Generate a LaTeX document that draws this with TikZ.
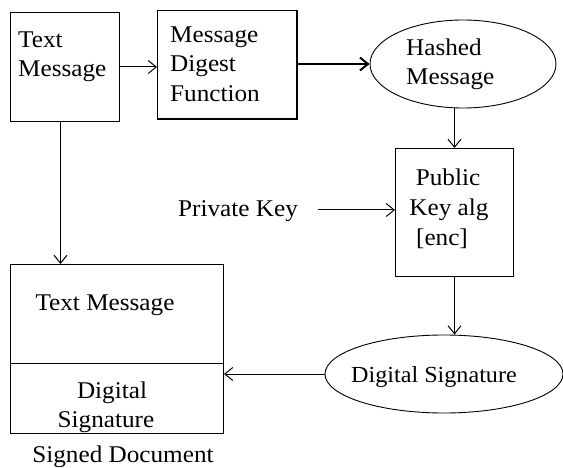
\documentclass[tikz,border=0pt]{standalone}
\usepackage{fontspec}
\setmainfont{Liberation Serif}[FakeStretch=1.05]
\usetikzlibrary{arrows.meta,shapes.geometric}
\begin{document}
\begin{tikzpicture}[x=1pt,y=-1pt,
  boxnode/.style={draw,line width=1pt,rectangle,inner sep=0pt,anchor=north west},
  oval/.style={draw,ellipse,line width=0.9pt,inner sep=0pt},
  lbl/.style={font=\fontsize{24}{30}\selectfont,inner sep=0pt,anchor=base west},
  clbl/.style={font=\fontsize{24}{30}\selectfont,inner sep=0pt,anchor=base},
  arr/.style={-{Straight Barb[length=8pt,width=13pt]},line width=1pt}]
\fill[white] (0,0) rectangle (563,468);
\useasboundingbox (0,0) rectangle (563,468);

% Text Message box
\node[boxnode,minimum width=109pt,minimum height=109pt] (tm) at (10,12) {};
\node[lbl] (tm1) at (18,48) {Text};
\node[lbl] (tm2) at (18,77) {Message};

% Message Digest Function box
\node[boxnode,minimum width=139pt,minimum height=108pt] (mdf) at (157,10) {};
\draw[line width=2pt] (mdf.south west) -- (mdf.south east) -- (mdf.north east);
\node[lbl] (mdf1) at (170,43) {Message};
\node[lbl] (mdf2) at (170,72) {Digest};
\node[lbl] (mdf3) at (170,102) {Function};

% Hashed Message ellipse
\node[oval,minimum width=186pt,minimum height=88pt] (hm) at (463,64) {};
\node[lbl] (hm1) at (406,56) {Hashed};
\node[lbl] (hm2) at (406,85) {Message};

% Public Key alg box
\node[boxnode,minimum width=118pt,minimum height=128pt] (pk) at (395,148) {};
\node[clbl] (pk1) at (448,186) {Public};
\node[clbl] (pk2) at (449,216) {Key alg};
\node[clbl] (pk3) at (442,246) {[enc]};

% Private Key
\node[lbl] (pkey) at (178,217) {Private Key};

% Signed document box
\node[boxnode,minimum width=213pt,minimum height=169pt] (sd) at (10,264) {};
\draw[line width=1pt] (sd.west |- 0,363) -- (sd.east |- 0,363);
\node[clbl] (sd1) at (105,310) {Text Message};
\node[clbl] (sd2) at (112,398) {Digital};
\node[clbl] (sd3) at (106,427) {Signature};
\node[clbl] (sdl) at (123,462) {Signed Document};

% Digital Signature ellipse
\node[oval,minimum width=238pt,minimum height=78pt] (ds) at (444,374) {};
\node[clbl,font=\fontsize{23}{30}\selectfont] (ds1) at (434,382) {Digital Signature};

% connectors
\draw[arr] (tm.east) -- (tm.east -| mdf.west);
\draw[arr,line width=2pt] (mdf.east |- hm.west) -- (hm.west);
\draw[arr] (hm.south -| pk.north) -- (pk.north);
\draw[arr] ([xshift=20pt]pkey.east |- 0,210) -- (pk.west |- 0,210);
\draw[arr] (pk.south) -- (pk.south |- ds.north);
\draw[arr] (ds.west) -- (ds.west -| sd.east);
\draw[arr] ([xshift=-4.5pt]tm.south) -- ([xshift=-4.5pt]tm.south |- sd.north);
\end{tikzpicture}
\end{document}
